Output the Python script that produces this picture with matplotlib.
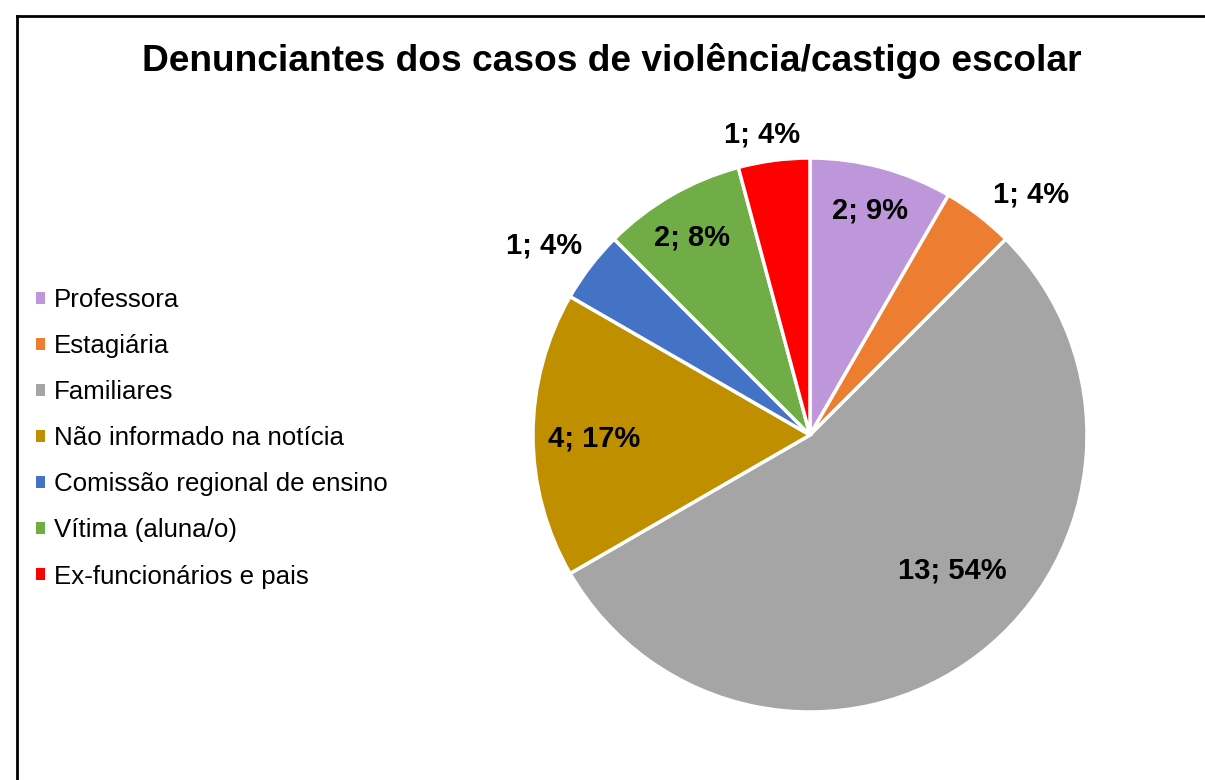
import numpy as np
import matplotlib.pyplot as plt
from matplotlib.lines import Line2D

plt.rcParams['font.family'] = ['Liberation Sans', 'DejaVu Sans']

# dados
categorias = ["Professora", "Estagiária", "Familiares", "Não informado na notícia",
              "Comissão regional de ensino", "Vítima (aluna/o)", "Ex-funcionários e pais"]
valores = [2, 1, 13, 4, 1, 2, 1]
rotulos = ["2; 9%", "1; 4%", "13; 54%", "4; 17%", "1; 4%", "2; 8%", "1; 4%"]
cores = ["#BE96DA", "#ED7D31", "#A5A5A5", "#BF8F00", "#4472C4", "#70AD47", "#FF0000"]

# posição dos rótulos (raio, desvio de ângulo em graus)
raio_rot = [0.84, 1.18, 0.71, 0.78, 1.18, 0.83, 1.10]
desvio_rot = [0, -5, 9, 1, 2, 1, 1.5]

W, H = 1205, 780
fig = plt.figure(figsize=(W / 100, H / 100), dpi=100)

# moldura
fig.add_artist(Line2D([17 / W, 1.01], [1 - 16 / H, 1 - 16 / H], color='black', lw=2))
fig.add_artist(Line2D([17 / W, 17 / W], [1 - 16 / H, -0.01], color='black', lw=2))

cx, cy, r = 810, 435, 277
ax = fig.add_axes([(cx - r) / W, (H - cy - r) / H, 2 * r / W, 2 * r / H])
fatias, _ = ax.pie(valores, colors=cores, startangle=90, counterclock=False,
                   wedgeprops=dict(edgecolor='white', linewidth=2.5))
ax.set_xlim(-1, 1)
ax.set_ylim(-1, 1)
ax.set_aspect('equal')
ax.axis('off')

for f, txt, rr, d in zip(fatias, rotulos, raio_rot, desvio_rot):
    ang = np.deg2rad((f.theta1 + f.theta2) / 2 + d)
    ax.text(rr * np.cos(ang), rr * np.sin(ang), txt, ha='center', va='center',
            fontsize=21, fontweight='bold', color='black', clip_on=False)

fig.text(612 / W, 1 - 61 / H, "Denunciantes dos casos de violência/castigo escolar",
         ha='center', va='center', fontsize=26.7, fontweight='bold')

leg = fig.legend(fatias, categorias, loc='upper left', bbox_to_anchor=(36 / W, 1 - 288 / H),
                 frameon=False, fontsize=18.6, handlelength=0.35, handleheight=0.35,
                 handletextpad=0.35, labelspacing=0.855, borderpad=0, borderaxespad=0)
for h in leg.legend_handles:
    h.set_edgecolor('none')

fig.savefig("out.png", dpi=100)
